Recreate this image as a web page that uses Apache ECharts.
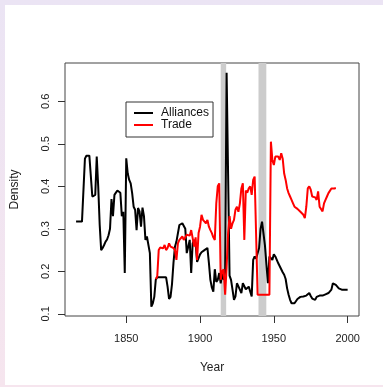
<!DOCTYPE html>
<html><head><meta charset="utf-8">
<script src="https://cdn.jsdelivr.net/npm/echarts@6/dist/echarts.min.js"></script>
<style>
html,body{margin:0;padding:0;width:383px;height:387px;overflow:hidden;background:linear-gradient(#ebe4f4,#f6e5ee);}
#panel{position:absolute;left:5px;top:5px;width:378px;height:380px;background:#fff;}
#chart{position:absolute;left:0;top:0;width:383px;height:387px;}
</style></head><body><div id="panel"></div><div id="chart"></div>
<script>
const allianceFirstYear = 1816;
const allianceValues = [
0.317,0.317,0.317,0.317,0.317,0.317,0.465,0.472,0.472,0.472,
0.472,0.376,0.376,0.38,0.47,0.40,0.31,0.25,0.255,0.262,
0.27,0.275,0.285,0.30,0.37,0.33,0.38,0.385,0.39,0.392,
0.385,0.33,0.34,0.196,0.466,0.43,0.415,0.407,0.384,0.352,
0.345,0.297,0.349,0.341,0.305,0.35,0.33,0.274,0.282,0.278,
0.243,0.117,0.125,0.14,0.18,0.186,0.186,0.186,0.186,0.186,
0.186,0.186,0.164,0.135,0.14,0.17,0.22,0.258,0.27,0.274,
0.309,0.312,0.313,0.31,0.30,0.243,0.258,0.274,0.196,0.266,
0.274,0.265,0.222,0.22,0.24,0.245,0.248,0.25,0.25,0.255,
0.22,0.18,0.162,0.152,0.205,0.175,0.18,0.196,0.172,0.196,
0.18,0.2,0.667,0.43,0.19,0.18,0.157,0.133,0.141,0.172,
0.176,0.157,0.149,0.172,0.165,0.158,0.157,0.164,0.16,0.141,
0.227,0.235,0.23,0.227,0.255,0.30,0.317,0.315,0.26,0.215,
0.172,0.235,0.235,0.227,0.24,0.235,0.227,0.219,0.212,0.208,
0.198,0.192,0.182,0.16,0.145,0.133,0.125,0.129,0.125,0.128,
0.135,0.138,0.14,0.141,0.141,0.14,0.143,0.145,0.149,0.142,
0.136,0.133,0.133,0.14,0.141,0.143,0.14,0.143,0.145,0.146,
0.148,0.149,0.152,0.157,0.172,0.17,0.168,0.165,0.16,0.157,
0.157,0.157,0.157,0.157,0.157
];
const tradeFirstYear = 1870;
const tradeValues = [
0.182,0.188,0.25,0.256,0.258,0.254,0.262,0.25,0.255,0.266,
0.258,0.258,0.255,0.25,0.227,0.266,0.274,0.278,0.282,0.274,
0.28,0.286,0.284,0.284,0.297,0.278,0.258,0.28,0.227,0.29,
0.305,0.333,0.321,0.325,0.313,0.321,0.305,0.297,0.29,0.28,
0.274,0.36,0.4,0.407,0.18,0.2,0.205,0.145,0.21,0.29,
0.33,0.30,0.313,0.321,0.345,0.352,0.34,0.36,0.395,0.407,
0.274,0.39,0.385,0.395,0.4,0.38,0.415,0.423,0.42,0.145,
0.145,0.145,0.145,0.145,0.145,0.145,0.145,0.145,0.505,0.462,
0.45,0.47,0.474,0.47,0.462,0.478,0.465,0.43,0.415,0.395,
0.384,0.376,0.368,0.36,0.352,0.352,0.347,0.343,0.34,0.337,
0.333,0.325,0.352,0.395,0.4,0.392,0.376,0.372,0.374,0.368,
0.388,0.352,0.349,0.341,0.36,0.368,0.376,0.384,0.386,0.395,
0.392,0.395,0.396
];
const warPeriods = [[1914, 1917.7], [1939.6, 1944.9]];
const xTicks = [1850, 1900, 1950, 2000];
const yTicks = [0.1, 0.2, 0.3, 0.4, 0.5, 0.6];
const seriesNames = ['Alliances', 'Trade'];

const FONT = "'Liberation Sans', Arial, sans-serif";
const allianceData = allianceValues.map((v, i) => [allianceFirstYear + i, v]);
const tradeData = tradeValues.map((v, i) => [tradeFirstYear + i, v]);

const chart = echarts.init(document.getElementById('chart'), null, {renderer: 'canvas'});
chart.setOption({
  animation: false,
  backgroundColor: 'transparent',
  textStyle: {fontFamily: FONT},
  grid: {left: 65, right: 24, top: 63, bottom: 71, show: true, borderColor: '#444', borderWidth: 1, backgroundColor: 'transparent'},
  xAxis: {
    type: 'value', min: 1808.5, max: 2007.7,
    name: 'Year', nameLocation: 'middle', nameGap: 46,
    nameTextStyle: {fontSize: 12, color: '#222', fontFamily: FONT},
    axisLine: {show: false}, splitLine: {show: false},
    axisTick: {show: true, length: 7, customValues: xTicks, lineStyle: {color: '#333'}},
    axisLabel: {customValues: xTicks, margin: 17, fontSize: 11, color: '#222', fontFamily: FONT,
      formatter: v => String(v)}
  },
  yAxis: {
    type: 'value', min: 0.095, max: 0.69,
    name: 'Density', nameLocation: 'middle', nameGap: 44,
    nameTextStyle: {fontSize: 12, color: '#222', fontFamily: FONT},
    axisLine: {show: false}, splitLine: {show: false},
    axisTick: {show: true, length: 7, customValues: yTicks, lineStyle: {color: '#333'}},
    axisLabel: {customValues: yTicks, margin: 14, rotate: 90, fontSize: 11, color: '#222', fontFamily: FONT,
      formatter: v => String(v)}
  },
  legend: {
    data: seriesNames, orient: 'vertical', left: 126, top: 102,
    borderColor: '#333', borderWidth: 1, padding: [5, 4, 6, 8],
    itemWidth: 19, itemHeight: 2, itemGap: 0, icon: 'rect',
    textStyle: {fontSize: 12, lineHeight: 9.5, color: '#111', fontFamily: FONT, padding: [0, 0, 0, 3]}
  },
  series: [
    {type: 'line', name: 'wars', data: [], z: 1, silent: true,
     markArea: {silent: true, itemStyle: {color: '#cccccc', opacity: 1},
       data: warPeriods.map(p => [{xAxis: p[0]}, {xAxis: p[1]}])}},
    {type: 'line', name: seriesNames[0], data: allianceData, showSymbol: false, z: 3,
     lineStyle: {color: '#000', width: 2}, itemStyle: {color: '#000'}},
    {type: 'line', name: seriesNames[1], data: tradeData, showSymbol: false, z: 4,
     lineStyle: {color: '#ff0000', width: 2}, itemStyle: {color: '#ff0000'}}
  ]
});
</script></body></html>
